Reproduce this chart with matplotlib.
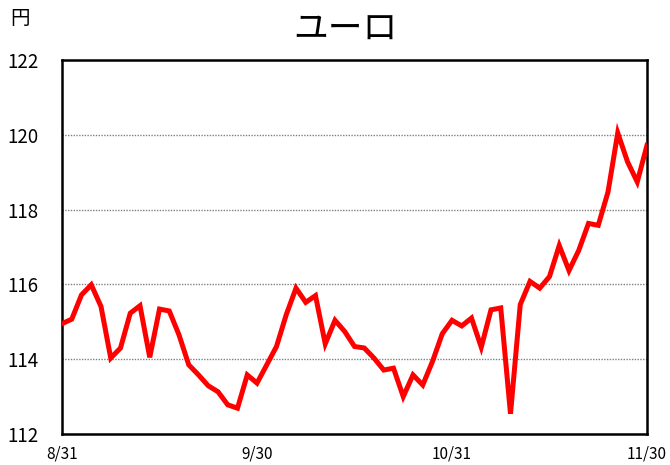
import numpy as np
import matplotlib.pyplot as plt

plt.rcParams['font.family'] = ['Noto Sans CJK JP', 'DejaVu Sans']

# ユーロ円 (61 business days, 8/31 - 11/30)
rates = [114.95, 115.07, 115.72, 115.99, 115.41, 114.03, 114.30, 115.23, 115.43, 114.05,
         115.34, 115.29, 114.65, 113.85, 113.58, 113.29, 113.13, 112.78, 112.69, 113.58,
         113.36, 113.85, 114.34, 115.19, 115.90, 115.52, 115.70, 114.41, 115.04, 114.74,
         114.34, 114.30, 114.03, 113.71, 113.76, 113.00, 113.58, 113.31, 113.94, 114.68,
         115.04, 114.89, 115.10, 114.32, 115.32, 115.37, 112.54, 115.46, 116.08, 115.90,
         116.21, 117.04, 116.37, 116.91, 117.63, 117.58, 118.47, 120.05, 119.28, 118.74,
         119.72]
tick_pos = [0, 20, 40, 60]
tick_labels = ['8/31', '9/30', '10/31', '11/30']
y_ticks = [112, 114, 116, 118, 120, 122]

fig = plt.figure(figsize=(6.7, 4.65), dpi=100)
ax = fig.add_axes([62/670, 31/465, 585/670, 374/465])

x = np.arange(len(rates))
ax.plot(x, rates, color='#ff0000', lw=3.6, solid_joinstyle='miter', zorder=3)

ax.set_xlim(0, len(rates) - 1)
ax.set_ylim(112, 122)
ax.set_yticks(y_ticks)
ax.set_yticklabels([str(v) for v in y_ticks], fontsize=13.5)
ax.set_xticks(tick_pos)
ax.set_xticklabels(tick_labels, fontsize=11)
ax.tick_params(axis='y', length=0, pad=17)
ax.tick_params(axis='x', length=0, pad=8)
ax.yaxis.grid(True, color='#808080', linestyle=(0, (1, 1)), lw=1)
for s in ax.spines.values():
    s.set_linewidth(1.8)

fig.text(20/670, 1 - 19/465, '円', fontsize=14, ha='center', va='center')
fig.text(345/670, 1 - 30/465, 'ユーロ', fontsize=25, fontweight='normal',
         style='italic', ha='center', va='center')

fig.savefig('out.png', dpi=100)
